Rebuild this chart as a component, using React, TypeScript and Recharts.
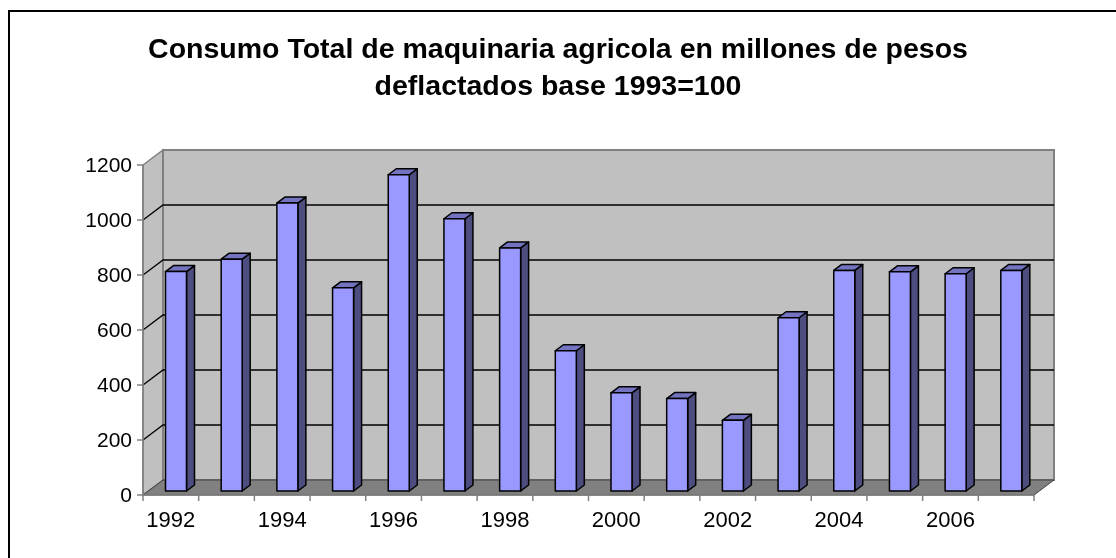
import React from 'react';
import { BarChart, Bar, XAxis, YAxis, ReferenceArea, ReferenceLine } from 'recharts';

// Consumo total de maquinaria agrícola (millones de pesos, base 1993=100)
const years = ['1992', '1993', '1994', '1995', '1996', '1997', '1998', '1999', '2000', '2001', '2002', '2003', '2004', '2005', '2006', '2007'];
const consumo = [798, 843, 1047, 739, 1150, 990, 884, 510, 357, 336, 257, 630, 802, 797, 790, 802];
const yTicks = [0, 200, 400, 600, 800, 1000, 1200];
const gridValues = [200, 400, 600, 800, 1000];

const rows = years.map((year, i) => ({ year, valor: consumo[i] }));

// half-step ticks on the helper axis: integers are category edges, halves are centres
const edgeTicks = Array.from({ length: years.length * 2 + 1 }, (_, i) => i / 2);

const FONT = '"Liberation Sans", Arial, sans-serif';

// 3D projection of the plot box
const DX = 20;
const DY = -15;
// where the columns sit inside the depth, and how deep they are
const BAR_OFF_X = 5.5;
const BAR_OFF_Y = -4;
const BAR_DX = 8;
const BAR_DY = -6;

const Walls = (props: any) => {
  const { x, y, width, height } = props;
  const bottom = y + height;
  return (
    <g>
      {/* left side wall */}
      <polygon
        points={`${x},${y} ${x + DX},${y + DY} ${x + DX},${bottom + DY} ${x},${bottom}`}
        fill="#C0C0C0"
        stroke="#808080"
        strokeWidth={1.5}
      />
      {/* back wall */}
      <rect x={x + DX} y={y + DY} width={width} height={height} fill="#C0C0C0" stroke="#808080" strokeWidth={2} />
      {/* floor */}
      <polygon
        points={`${x},${bottom} ${x + DX},${bottom + DY} ${x + width + DX},${bottom + DY} ${x + width},${bottom}`}
        fill="#808080"
        stroke="#404040"
        strokeWidth={1}
      />
    </g>
  );
};

const WallGridLine = (props: any) => {
  const { x1, y1, x2 } = props;
  const left = Math.min(x1, x2);
  const right = Math.max(x1, x2);
  return (
    <path
      d={`M${left},${y1} L${left + DX},${y1 + DY} L${right + DX},${y1 + DY}`}
      fill="none"
      stroke="#000"
      strokeWidth={1.3}
    />
  );
};

const Column = (props: any) => {
  const { x, y, width, height } = props;
  if (!height) return null;
  const fx = x + BAR_OFF_X;
  const fy = y + BAR_OFF_Y;
  const r = fx + width;
  const b = fy + height;
  return (
    <g stroke="#000" strokeWidth={1.5} strokeLinejoin="round">
      <polygon points={`${r},${fy} ${r + BAR_DX},${fy + BAR_DY} ${r + BAR_DX},${b + BAR_DY} ${r},${b}`} fill="#4D4D80" />
      <polygon points={`${fx},${fy} ${fx + BAR_DX},${fy + BAR_DY} ${r + BAR_DX},${fy + BAR_DY} ${r},${fy}`} fill="#7373BF" />
      <rect x={fx} y={fy} width={width} height={height} fill="#9999FF" />
    </g>
  );
};

const YearTick = (props: any) => {
  const { x, y, payload } = props;
  const v = payload.value as number;
  if (Number.isInteger(v)) {
    return <line x1={x} x2={x} y1={y} y2={y + 6} stroke="#808080" strokeWidth={1.5} />;
  }
  const idx = v - 0.5;
  if (idx % 2 !== 0) return null;
  return (
    <text x={x} y={y + 32} textAnchor="middle" fontSize={22} fontFamily={FONT} fill="#000">
      {years[idx]}
    </text>
  );
};

export default function App() {
  return (
    <div style={{ position: 'relative', width: 1100, height: 540 }}>
      <div
        style={{
          position: 'fixed',
          left: 8,
          top: 10,
          width: 1200,
          height: 600,
          borderTop: '2px solid #000',
          borderLeft: '2px solid #000',
          pointerEvents: 'none',
        }}
      />
      <div
        style={{
          position: 'absolute',
          left: 0,
          top: 22,
          width: 1100,
          textAlign: 'center',
          fontFamily: FONT,
          fontWeight: 'bold',
          fontSize: 28.5,
          lineHeight: '37px',
          color: '#000',
        }}
      >
        Consumo Total de maquinaria agricola en millones de pesos
        <br />
        deflactados base 1993=100
      </div>
      <BarChart
        width={1100}
        height={540}
        data={rows}
        margin={{ top: 157, right: 74, bottom: 13, left: 75 }}
        barCategoryGap={0}
      >
        <XAxis
          xAxisId="pos"
          type="number"
          dataKey="valor"
          domain={[0, years.length]}
          allowDataOverflow
          ticks={edgeTicks}
          interval={0}
          tick={<YearTick />}
          tickLine={false}
          tickSize={0}
          tickMargin={0}
          height={40}
          axisLine={{ stroke: '#808080', strokeWidth: 1.5 }}
        />
        <XAxis xAxisId="cat" dataKey="year" type="category" hide height={0} />
        <YAxis
          domain={[0, 1200]}
          ticks={yTicks}
          interval={0}
          width={60}
          tickSize={6}
          tickMargin={5}
          axisLine={{ stroke: '#808080', strokeWidth: 1.5 }}
          tickLine={{ stroke: '#808080', strokeWidth: 1.5 }}
          tick={{ fill: '#000', fontSize: 21, fontFamily: FONT }}
        />
        <ReferenceArea
          xAxisId="pos"
          x1={0}
          x2={years.length}
          y1={0}
          y2={1200}
          shape={<Walls />}
          zIndex={-90}
        />
        {gridValues.map((v) => (
          <ReferenceLine key={v} xAxisId="pos" y={v} shape={<WallGridLine />} zIndex={-80} />
        ))}
        <Bar
          xAxisId="cat"
          dataKey="valor"
          barSize={21}
          shape={<Column />}
          isAnimationActive={false}
        />
      </BarChart>
    </div>
  );
}
